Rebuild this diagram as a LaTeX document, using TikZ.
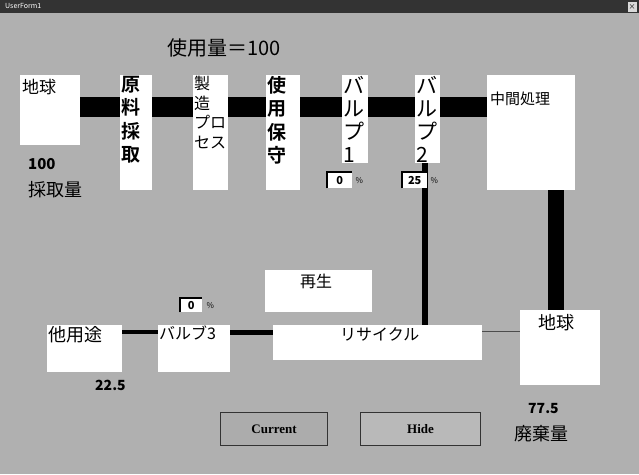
\documentclass[tikz,border=0pt]{standalone}
\usepackage{fontspec}
\usetikzlibrary{calc}
\setmainfont{Noto Sans CJK JP}
\newfontfamily\jpb{Noto Sans CJK JP}[BoldFont={* Bold}]
\newfontfamily\btnfont{Liberation Serif}
\begin{document}
\begin{tikzpicture}[x=1pt,y=-1pt,
  wbox/.style={draw=none,fill=white,inner sep=0pt,anchor=north west},
  txt/.style={inner sep=0pt,anchor=north west,text=black},
  vtxt/.style={inner sep=0pt,anchor=north west,align=left,text=black},
  bar/.style={line width=20pt,black},
  pbox/.style={fill=white,inner sep=0pt,anchor=north west,minimum height=16pt},
  btn/.style={fill=gray!65,draw=gray!40!black,line width=1.2pt,inner sep=0pt,anchor=north west,minimum width=107pt,minimum height=33pt,font=\btnfont\fontsize{13}{14}\selectfont\bfseries}
]
\useasboundingbox (0,0) rectangle (639,474);
\fill[gray!62] (0,0) rectangle (639,474);
% title bar
\fill[black!80] (0,0) rectangle (639,13);
\node[txt,text=white,font=\fontsize{7}{8}\selectfont] (title) at (5,3) {UserForm1};
\node[fill=gray!30,inner sep=0pt,minimum width=9pt,minimum height=10pt,font=\fontsize{7}{8}\selectfont] (close) at (632,7) {×};

% top label
\node[txt,font=\fontsize{20}{21}\selectfont] (usage) at (167,38) {使用量＝100};

% boxes
\node[wbox,minimum width=60pt,minimum height=70pt] (earth1) at (20,75) {};
\node[wbox,minimum width=32pt,minimum height=115pt] (genryo) at (120,75) {};
\node[wbox,minimum width=35pt,minimum height=115pt] (seizo) at (193,75) {};
\node[wbox,minimum width=34pt,minimum height=115pt] (shiyo) at (266,75) {};
\node[wbox,minimum width=26pt,minimum height=88pt] (v1) at (342,75) {};
\node[wbox,minimum width=25pt,minimum height=88pt] (v2) at (415,75) {};
\node[wbox,minimum width=88pt,minimum height=115pt] (chukan) at (487,75) {};
\node[wbox,minimum width=107pt,minimum height=42pt] (saisei) at (265,270) {};
\node[wbox,minimum width=75pt,minimum height=47pt] (tayou) at (47,325) {};
\node[wbox,minimum width=72pt,minimum height=47pt] (v3) at (158,325) {};
\node[wbox,minimum width=209pt,minimum height=35pt] (recycle) at (273,325) {};
\node[wbox,minimum width=80pt,minimum height=75pt] (earth2) at (520,310) {};

% connectors
\coordinate (barline) at (0,107);
\draw[bar] (earth1.east |- barline) -- (genryo.west |- barline);
\draw[bar] (genryo.east |- barline) -- (seizo.west |- barline);
\draw[bar] (seizo.east |- barline) -- (shiyo.west |- barline);
\draw[bar] (shiyo.east |- barline) -- (v1.west |- barline);
\draw[bar] (v1.east |- barline) -- (v2.west |- barline);
\draw[bar] (v2.east |- barline) -- (chukan.west |- barline);
\draw[line width=6pt] ($(v2.south)+(-3,0)$) -- ($(v2.south |- recycle.north)+(-3,0)$);
\draw[line width=16pt] ($(chukan.south -| earth2.north)+(-4,0)$) -- ($(earth2.north)+(-4,0)$);
\coordinate (lowline) at (0,332);
\draw[line width=4pt] (tayou.east |- lowline) -- (v3.west |- lowline);
\draw[line width=5pt] (v3.east |- lowline) -- (recycle.west |- lowline);
\coordinate (thinline) at (0,331);
\draw[line width=1pt,black!70] (recycle.east |- thinline) -- (earth2.west |- thinline);

% texts in boxes
\node[txt,font=\fontsize{17}{18}\selectfont] (t-earth1) at ($(earth1.north west)+(2,4)$) {地球};
\node[vtxt,font=\jpb\fontsize{19}{23.5}\selectfont\bfseries] (t-genryo) at ($(genryo.north west)+(1,1)$) {原\\料\\採\\取};
\node[vtxt,font=\fontsize{16}{19.5}\selectfont] (t-seizo) at ($(seizo.north west)+(1,1)$) {製\\造\\プロ\\セス};
\node[vtxt,font=\jpb\fontsize{19}{23.5}\selectfont\bfseries] (t-shiyo) at ($(shiyo.north west)+(1,1)$) {使\\用\\保\\守};
\node[vtxt,font=\fontsize{21}{23}\selectfont] (t-v1) at ($(v1.north west)+(1,1)$) {バ\\ル\\プ\\1};
\node[vtxt,font=\fontsize{21}{23}\selectfont] (t-v2) at ($(v2.north west)+(1,1)$) {バ\\ル\\プ\\2};
\node[txt,font=\fontsize{15}{16}\selectfont] (t-chukan) at ($(chukan.north west)+(3,17)$) {中間処理};
\node[txt,font=\fontsize{16}{17}\selectfont] (t-saisei) at ($(saisei.north west)+(35,4)$) {再生};
\node[txt,font=\fontsize{18}{19}\selectfont] (t-tayou) at ($(tayou.north west)+(1,1)$) {他用途};
\node[txt,font=\fontsize{16}{17}\selectfont] (t-v3) at ($(v3.north west)+(1,1)$) {バルブ3};
\node[txt,font=\fontsize{16}{17}\selectfont] (t-recycle) at ($(recycle.north west)+(67,2)$) {リサイクル};
\node[txt,font=\fontsize{18}{19}\selectfont] (t-earth2) at ($(earth2.north west)+(18,4)$) {地球};

% percent boxes
\node[pbox,minimum width=25pt,font=\fontsize{11}{12}\selectfont\bfseries] (p1) at (327,172) {0};
\draw[line width=1.2pt] (p1.south west) -- (p1.north west) -- (p1.north east);
\node[txt,font=\fontsize{8}{9}\selectfont,anchor=west] (p1s) at ($(p1.east)+(3,0)$) {\%};
\node[pbox,minimum width=25pt,font=\fontsize{11}{12}\selectfont\bfseries] (p2) at (402,172) {25};
\draw[line width=1.2pt] (p2.south west) -- (p2.north west) -- (p2.north east);
\node[txt,font=\fontsize{8}{9}\selectfont,anchor=west] (p2s) at ($(p2.east)+(3,0)$) {\%};
\node[pbox,minimum width=22pt,minimum height=14pt,font=\fontsize{11}{12}\selectfont\bfseries] (p3) at (180,298) {0};
\draw[line width=1.2pt] (p3.south west) -- (p3.north west) -- (p3.north east);
\node[txt,font=\fontsize{8}{9}\selectfont,anchor=west] (p3s) at ($(p3.east)+(4,0)$) {\%};

% free labels
\node[txt,font=\fontsize{15}{16}\selectfont\bfseries] (n100) at (28,158) {100};
\node[txt,font=\fontsize{18}{19}\selectfont] (saishu) at (28,181) {採取量};
\node[txt,font=\fontsize{14}{15}\selectfont\bfseries] (n225) at (95,380) {22.5};
\node[txt,font=\fontsize{14}{15}\selectfont\bfseries] (n775) at (528,403) {77.5};
\node[txt,font=\fontsize{18}{19}\selectfont] (haiki) at (514,425) {廃棄量};

% buttons
\node[btn,minimum width=107pt] (current) at (220,412) {Current};
\node[btn,minimum width=120pt,fill=gray!55,draw=black!80] (hide) at (360,412) {Hide};
\end{tikzpicture}
\end{document}
